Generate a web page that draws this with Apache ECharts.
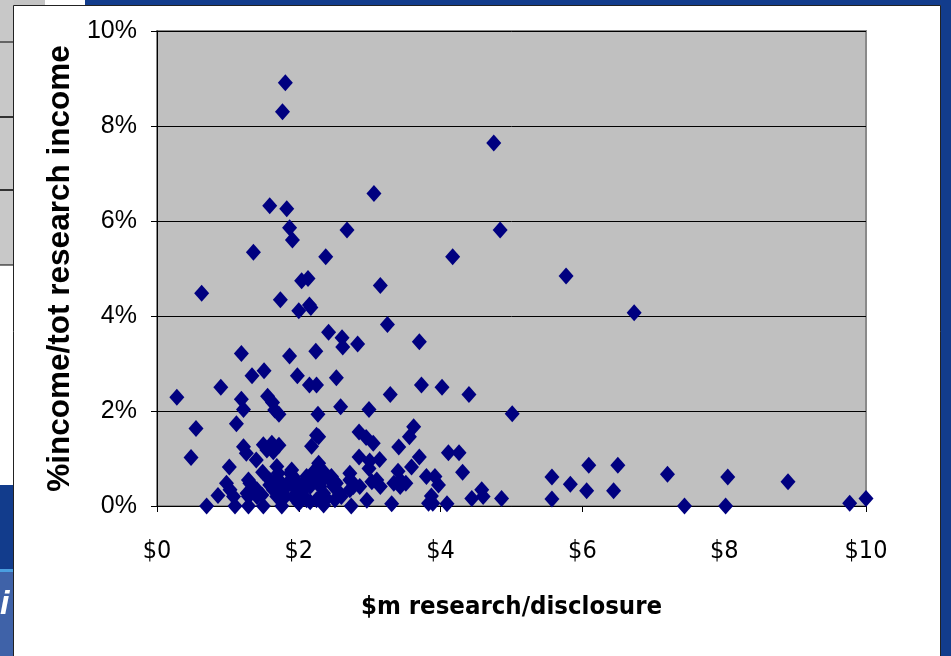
<!DOCTYPE html>
<html>
<head>
<meta charset="utf-8">
<script src="https://cdn.jsdelivr.net/npm/echarts@6/dist/echarts.min.js"></script>
<style>html,body{margin:0;padding:0;background:#fff}#c{width:951px;height:656px}</style>
</head>
<body>
<div id="c"></div>
<script>
// $m research per disclosure (x) vs % income / total research income (y, percent)
const researchPerDisclosure = [
0.28,0.63,0.55,0.48,0.70,0.90,0.86,1.02,0.98,1.03,1.08,1.10,
1.19,1.19,1.22,1.12,1.22,1.26,1.34,1.51,1.36,
1.40,1.49,1.31,1.36,1.27,1.29,1.29,1.29,1.41,1.48,1.41,1.50,
1.50,1.55,1.62,1.64,1.72,
1.56,1.63,1.66,1.72,
1.59,1.74,1.77,1.81,1.83,1.87,1.91,
1.87,1.98,
1.69,1.71,1.59,1.64,1.73,1.76,1.83,1.81,1.76,1.69,1.64,1.59,1.76,
1.88,1.90,1.92,1.88,1.99,1.97,1.92,2.04,2.00,2.02,
2.04,2.13,2.00,2.15,2.17,
2.24,2.15,2.25,2.27,
2.25,2.28,2.18,
2.11,2.06,2.11,2.16,2.11,2.16,2.23,2.28,2.28,2.30,2.20,2.25,2.30,2.30,2.25,
2.37,2.35,2.39,2.35,2.37,2.46,2.44,2.51,2.49,2.53,2.58,2.60,2.51,
2.38,2.42,2.53,2.59,2.61,2.62,2.68,2.83,
2.72,2.72,2.77,2.77,2.86,2.72,2.74,
2.85,2.95,3.05,2.85,3.00,3.14,2.99,3.03,3.10,3.15,2.96,
2.99,3.06,3.15,3.25,3.29,3.70,3.73,4.02,4.40,
3.31,3.40,3.43,3.34,3.43,3.51,
3.41,3.56,3.62,3.70,3.59,
3.80,3.92,3.97,3.87,3.83,3.89,4.09,
4.11,4.26,4.31,
4.44,4.58,4.60,4.86,
4.17,4.75,4.84,5.01,
5.57,5.57,5.83,6.09,6.06,6.50,6.44,7.20,7.44,8.05,8.02,8.90,9.77,10.0,
5.77,6.73
];
const incomeShare = [
2.29,4.48,1.63,1.02,0.00,2.50,0.22,0.82,0.48,0.34,0.20,0.00,
3.21,2.25,2.03,1.73,1.25,1.11,2.74,2.85,5.34,
0.97,0.71,0.48,0.41,0.27,0.55,0.20,0.00,0.20,0.23,0.34,0.00,
1.29,1.18,1.32,1.14,1.28,
2.31,2.18,2.02,1.93,
6.32,4.34,8.30,8.91,6.26,5.86,5.60,
3.16,2.74,
0.83,0.69,0.44,0.34,0.27,0.41,0.41,0.20,0.00,0.20,0.48,0.55,0.48,
0.69,0.76,0.62,0.55,0.48,0.34,0.20,0.27,0.06,0.20,
4.74,4.79,4.11,4.23,4.18,
3.26,2.55,2.55,1.93,
1.49,1.46,1.26,
0.55,0.34,0.62,0.41,0.13,0.09,0.76,0.83,0.90,0.76,0.69,0.55,0.48,0.41,0.13,
0.69,0.27,0.16,0.02,0.13,0.62,0.55,0.51,0.41,0.48,0.27,0.20,0.13,
5.25,3.66,2.70,2.09,3.54,3.35,5.81,3.41,
0.69,0.55,0.48,0.41,0.41,0.34,0.00,
1.56,1.44,1.32,1.03,0.95,0.98,0.79,0.51,0.55,0.41,0.12,
2.03,6.58,4.64,3.82,2.35,3.46,2.55,2.50,2.35,
0.05,0.73,0.55,0.48,0.41,0.48,
1.24,1.46,1.67,1.03,0.82,
0.62,0.62,0.44,0.21,0.06,0.06,0.05,
1.12,1.12,0.71,
0.16,0.34,0.20,0.16,
5.25,7.64,5.81,1.94,
0.61,0.15,0.46,0.86,0.32,0.86,0.32,0.67,0.00,0.61,0.00,0.51,0.06,0.16,
4.84,4.07
];
const xTickLabels = ['$0','$2','$4','$6','$8','$10'];
const yTickLabels = ['0%','2%','4%','6%','8%','10%'];
const xTitle = '$m research/disclosure';
const yTitle = '%income/tot research income';

const points = researchPerDisclosure.map((x, i) => [x, incomeShare[i]]);

const narrow = "'Liberation Sans Narrow','Arial Narrow','DejaVu Sans Condensed','Roboto Condensed','Liberation Sans',sans-serif";
const chart = echarts.init(document.getElementById('c'), null, {renderer: 'canvas'});
const blue = '#123c8c';
chart.setOption({
  animation: false,
  backgroundColor: blue,
  graphic: [
    {type: 'rect', z: -10, shape: {x: 0, y: 0, width: 85, height: 6}, style: {fill: '#c4c4c4'}},
    {type: 'rect', z: -10, shape: {x: 45, y: 0, width: 40, height: 6}, style: {fill: '#ffffff'}},
    {type: 'rect', z: -10, shape: {x: 0, y: 0, width: 14, height: 265}, style: {fill: '#c8c8c8'}},
    {type: 'rect', z: -9, shape: {x: -1, y: 42, width: 15, height: 75}, style: {fill: 'none', stroke: '#000', lineWidth: 1}},
    {type: 'rect', z: -9, shape: {x: -1, y: 117, width: 15, height: 73}, style: {fill: 'none', stroke: '#000', lineWidth: 1}},
    {type: 'rect', z: -9, shape: {x: -1, y: 190, width: 15, height: 75}, style: {fill: 'none', stroke: '#000', lineWidth: 1}},
    {type: 'rect', z: -10, shape: {x: 0, y: 265, width: 14, height: 220}, style: {fill: '#ffffff'}},
    {type: 'rect', z: -10, shape: {x: 0, y: 572, width: 14, height: 84}, style: {fill: '#3f62a8'}},
    {type: 'rect', z: -10, shape: {x: 0, y: 569, width: 14, height: 3}, style: {fill: '#4a9ee0'}},
    {type: 'text', z: -9, left: 0, top: 588, style: {text: 'i', fill: '#ffffff', font: 'italic bold 34px Liberation Sans'}},
    {type: 'rect', z: -8, shape: {x: 13.5, y: 5.5, width: 927, height: 660}, style: {fill: '#ffffff', stroke: '#222', lineWidth: 1}}
  ],
  grid: {
    left: 157, right: 85, top: 31, bottom: 150,
    show: true, backgroundColor: '#c0c0c0', borderColor: '#8a8a8a', borderWidth: 2
  },
  xAxis: {
    type: 'value', min: 0, max: 10, interval: 2,
    name: xTitle, nameLocation: 'middle', nameGap: 88,
    nameTextStyle: {color: '#000', fontFamily: narrow, fontWeight: 'bold', fontSize: 25.5},
    axisLine: {show: true, lineStyle: {color: '#000', width: 1}},
    axisTick: {show: true, length: 6, lineStyle: {color: '#000'}},
    splitLine: {show: false},
    axisLabel: {
      margin: 33, color: '#000', fontFamily: narrow, fontSize: 25,
      formatter: v => xTickLabels[Math.round(v / 2)]
    }
  },
  yAxis: {
    type: 'value', min: 0, max: 10, interval: 2,
    name: yTitle, nameLocation: 'middle', nameGap: 80, nameRotate: 90,
    nameTextStyle: {color: '#000', fontFamily: 'Liberation Sans', fontWeight: 'bold', fontSize: 31.5},
    axisLine: {show: true, lineStyle: {color: '#000', width: 1}},
    axisTick: {show: true, length: 6, lineStyle: {color: '#000'}},
    splitLine: {show: true, lineStyle: {color: '#000', width: 1}},
    axisLabel: {
      margin: 20, color: '#000', fontFamily: 'Liberation Sans', fontSize: 25,
      formatter: v => yTickLabels[Math.round(v / 2)]
    }
  },
  series: [{
    type: 'scatter',
    data: points,
    symbol: 'diamond',
    symbolSize: [15, 17],
    itemStyle: {color: '#000080', opacity: 1},
    clip: false
  }]
});
</script>
</body>
</html>
